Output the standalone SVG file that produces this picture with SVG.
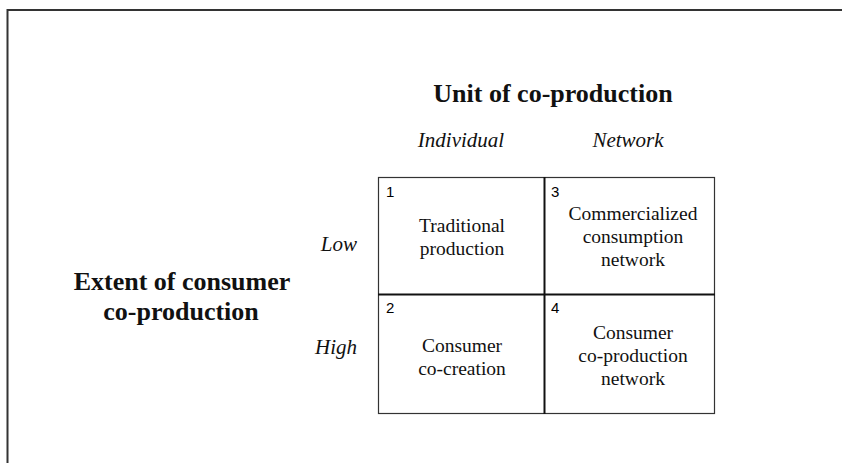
<svg xmlns="http://www.w3.org/2000/svg" width="842" height="463" viewBox="0 0 842 463">
<style>
.t{font-family:"Liberation Serif",serif;fill:#111}
.cell{font-size:19.5px;text-anchor:middle}
.hd{font-size:26px;font-weight:bold;text-anchor:middle}
.it{font-size:21px;font-style:italic}
.num{font-family:"Liberation Sans",Arial,sans-serif;font-size:15px;fill:#000}
</style>
<rect width="842" height="463" fill="#fff"/>
<path d="M7.5 463 V10 H842" fill="none" stroke="#333" stroke-width="2"/>
<text class="t hd" x="553" y="102">Unit of co-production</text>
<text class="t it" x="461" y="147" text-anchor="middle">Individual</text>
<text class="t it" x="628" y="147" text-anchor="middle">Network</text>
<text class="t it" x="357" y="251" text-anchor="end">Low</text>
<text class="t it" x="357" y="354" text-anchor="end">High</text>
<text class="t hd" x="182" y="290">Extent of consumer</text>
<text class="t hd" x="181" y="320">co-production</text>
<g id="grid">
<rect x="378.5" y="177.5" width="336" height="236" fill="none" stroke="#333" stroke-width="1.2"/>
<line x1="544.5" y1="177" x2="544.5" y2="414" stroke="#111" stroke-width="2"/>
<line x1="378" y1="294.5" x2="715" y2="294.5" stroke="#111" stroke-width="2"/>
</g>
<g id="cell1">
<text class="num" x="386" y="197">1</text>
<text class="t cell" x="462" y="232">Traditional</text>
<text class="t cell" x="462" y="255">production</text>
</g>
<g id="cell3">
<text class="num" x="551" y="197">3</text>
<text class="t cell" x="633" y="220">Commercialized</text>
<text class="t cell" x="633" y="243">consumption</text>
<text class="t cell" x="633" y="266">network</text>
</g>
<g id="cell2">
<text class="num" x="386" y="313">2</text>
<text class="t cell" x="462" y="352">Consumer</text>
<text class="t cell" x="462" y="375">co-creation</text>
</g>
<g id="cell4">
<text class="num" x="551" y="313">4</text>
<text class="t cell" x="633" y="339">Consumer</text>
<text class="t cell" x="633" y="362">co-production</text>
<text class="t cell" x="633" y="385">network</text>
</g>
</svg>
